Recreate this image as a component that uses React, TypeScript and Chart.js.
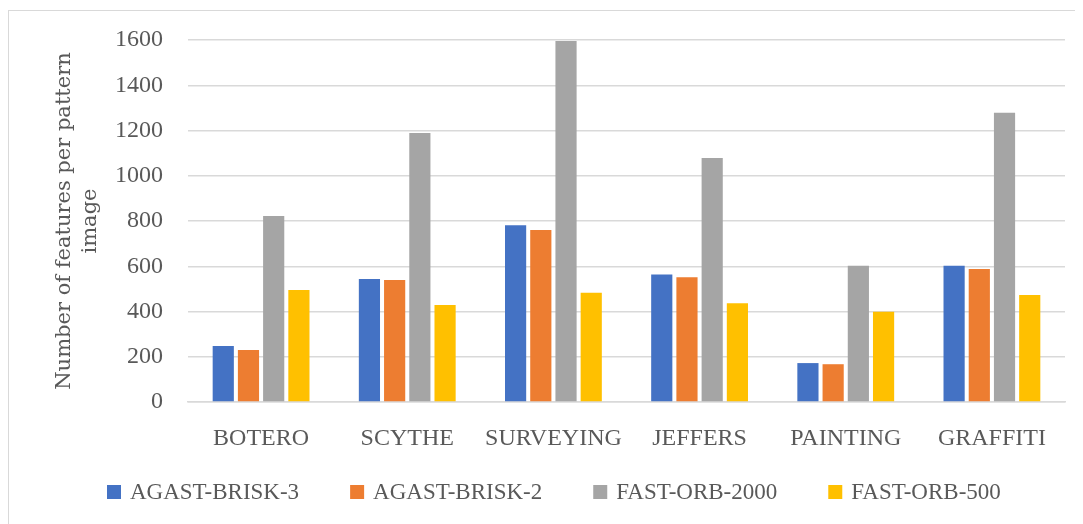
import React, { useEffect, useRef } from "react";
import { Chart, registerables } from "chart.js";

Chart.register(...registerables);

const categories = ["BOTERO", "SCYTHE", "SURVEYING", "JEFFERS", "PAINTING", "GRAFFITI"];
const agastBrisk3 = [248, 544, 781, 563, 172, 602];
const agastBrisk2 = [230, 539, 760, 551, 167, 588];
const fastOrb2000 = [822, 1189, 1596, 1078, 602, 1279];
const fastOrb500 = [495, 429, 483, 436, 399, 473];
const seriesNames = ["AGAST-BRISK-3", "AGAST-BRISK-2", "FAST-ORB-2000", "FAST-ORB-500"];
const seriesColors = ["#4472C4", "#ED7D31", "#A5A5A5", "#FFC000"];
const yTitle = ["Number of features per pattern", "image"];

const textColor = "#595959";
const gridColor = "#d9d9d9";
const serif = "'Liberation Serif', serif";

// Legend row drawn under the axis labels: square swatch, gap, label, gap.
const bottomLegend = {
  id: "bottomLegend",
  afterDraw(chart: Chart) {
    const ctx = chart.ctx;
    ctx.save();
    ctx.font = `23px ${serif}`;
    ctx.textBaseline = "middle";
    ctx.textAlign = "left";
    const y = 481;
    let x = 98;
    chart.data.datasets.forEach((ds) => {
      ctx.fillStyle = ds.backgroundColor as string;
      ctx.fillRect(x, y - 7, 14, 14);
      x += 14 + 9;
      ctx.fillStyle = textColor;
      const label = ds.label || "";
      ctx.fillText(label, x, y + 1);
      x += ctx.measureText(label).width + 51;
    });
    ctx.restore();
  },
};

export default function App() {
  const canvasRef = useRef<HTMLCanvasElement | null>(null);

  useEffect(() => {
    if (!canvasRef.current) return;
    const values = [agastBrisk3, agastBrisk2, fastOrb2000, fastOrb500];
    const chart = new Chart(canvasRef.current, {
      type: "bar",
      data: {
        labels: categories,
        datasets: values.map((v, i) => ({
          label: seriesNames[i],
          data: v,
          backgroundColor: seriesColors[i],
          borderWidth: 0,
          categoryPercentage: 0.69,
          barPercentage: 0.84,
        })),
      },
      plugins: [bottomLegend],
      options: {
        animation: false,
        responsive: true,
        maintainAspectRatio: false,
        layout: { padding: { left: 42, right: 18, top: 29, bottom: 71 } },
        plugins: {
          tooltip: { enabled: false },
          legend: { display: false },
        },
        scales: {
          x: {
            grid: { display: false, drawTicks: false },
            border: { display: true, color: gridColor, width: 1.5 },
            ticks: {
              color: textColor,
              font: { family: serif, size: 24 },
              padding: 22,
              maxRotation: 0,
            },
            afterFit: (scale) => {
              scale.height = 51;
              scale.paddingLeft = 0;
              scale.paddingRight = 0;
            },
          },
          y: {
            min: 0,
            max: 1600,
            ticks: {
              stepSize: 200,
              color: textColor,
              font: { family: serif, size: 24 },
              padding: 25,
              callback: (v) => String(v),
            },
            grid: { color: gridColor, lineWidth: 1.5, drawTicks: false },
            border: { display: false },
            title: {
              display: true,
              text: yTitle,
              color: textColor,
              font: { family: "'DejaVu Serif', serif", size: 21, lineHeight: 1.25 },
              padding: { top: 0, bottom: 11 },
            },
            afterFit: (scale) => {
              scale.width = 137;
              scale.paddingTop = 0;
              scale.paddingBottom = 0;
            },
          },
        },
      },
    });
    return () => chart.destroy();
  }, []);

  return (
    <div
      style={{
        marginTop: 2,
        borderTop: `1px solid ${gridColor}`,
        borderLeft: `1px solid ${gridColor}`,
        width: 1074,
        height: 513,
        boxSizing: "content-box",
        position: "relative",
      }}
    >
      <canvas ref={canvasRef} />
    </div>
  );
}
